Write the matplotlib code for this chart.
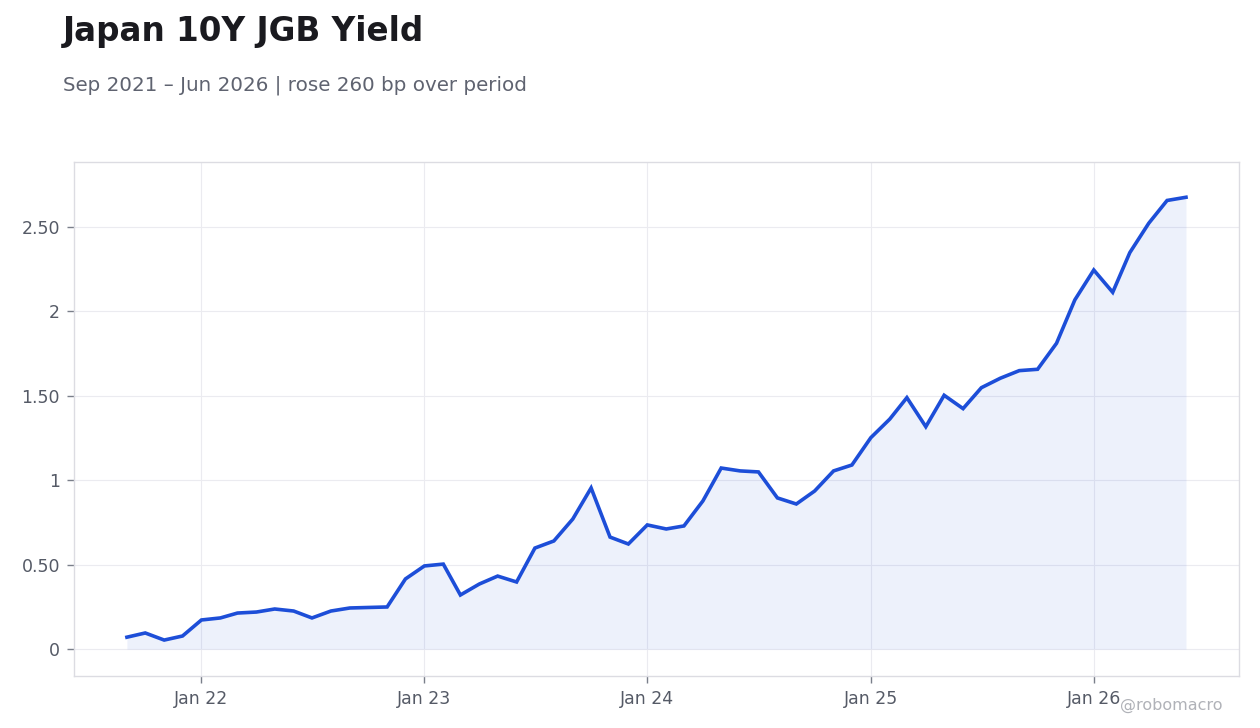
import numpy as np
import pandas as pd
import matplotlib
matplotlib.use("Agg")
import matplotlib.pyplot as plt
import matplotlib.dates as mdates
from matplotlib.ticker import FuncFormatter

# monthly 10Y JGB yield (%)
months = pd.date_range("2021-09-01", "2026-06-01", freq="MS")
yields = [
    0.07, 0.095, 0.053, 0.077,                                # 2021
    0.172, 0.184, 0.213, 0.219, 0.237, 0.225,                 # 2022
    0.184, 0.225, 0.243, 0.246, 0.249, 0.415,
    0.492, 0.503, 0.320, 0.385, 0.432, 0.397,                 # 2023
    0.598, 0.640, 0.770, 0.954, 0.663, 0.622,
    0.735, 0.711, 0.729, 0.877, 1.072, 1.055,                 # 2024
    1.049, 0.895, 0.859, 0.936, 1.055, 1.090,
    1.252, 1.362, 1.489, 1.317, 1.503, 1.424,                 # 2025
    1.548, 1.604, 1.649, 1.657, 1.811, 2.068,
    2.245, 2.113, 2.348, 2.522, 2.657, 2.676,                 # 2026
]
y_ticks = [0, 0.5, 1, 1.5, 2, 2.5]

title = "Japan 10Y JGB Yield"
subtitle = "Sep 2021 – Jun 2026 | rose 260 bp over period"

LINE = "#1d4ed8"
GRID = "#ebebf0"
EDGE = "#dcdce2"
TXT = "#555a66"

fig = plt.figure(figsize=(12.6, 7.28), dpi=100)
fig.patch.set_facecolor("white")
ax = fig.add_axes([0.0587, 0.0714, 0.9246, 0.7061])

ax.fill_between(months, yields, 0, color=LINE, alpha=0.08, linewidth=0)
ax.plot(months, yields, color=LINE, linewidth=2.6, solid_joinstyle="miter")

ax.margins(x=0.05)
ax.set_ylim(-0.16, 2.885)
ax.set_yticks(y_ticks)


def fmt(v, pos):
    if abs(v - round(v)) < 1e-9:
        return f"{int(round(v))}"
    return f"{v:.2f}"


ax.yaxis.set_major_formatter(FuncFormatter(fmt))
ax.xaxis.set_major_locator(mdates.YearLocator(month=1))
ax.xaxis.set_major_formatter(mdates.DateFormatter("Jan %y"))

ax.grid(True, color=GRID, linewidth=0.8)
ax.set_axisbelow(True)
for s in ax.spines.values():
    s.set_color(EDGE)
    s.set_linewidth(1.0)
ax.tick_params(axis="both", colors=TXT, labelsize=12.5, length=5, width=1,
               pad=5)
ax.tick_params(axis="both", color="#7a7f8a")

fig.text(0.05, 0.9437, title, fontsize=23.5, fontweight="bold",
         color="#1a1a1f", ha="left", va="baseline")
fig.text(0.05, 0.876, subtitle, fontsize=14.3, color="#5f6370",
         ha="left", va="baseline")
fig.text(0.97, 0.025, "@robomacro", fontsize=11.5, color="#b0b2b8",
         ha="right", va="baseline")

fig.savefig("out.png", dpi=100, facecolor="white")
